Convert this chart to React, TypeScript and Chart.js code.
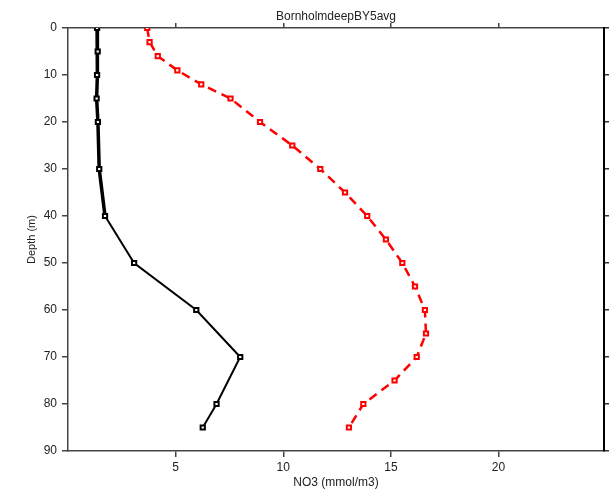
import React, { useEffect, useRef } from "react";
import { Chart, registerables } from "chart.js";

Chart.register(...registerables);

const chartTitle = "BornholmdeepBY5avg";
const xTitle = "NO3 (mmol/m3)";
const yTitle = "Depth (m)";

const blackDepth = [0, 5, 10, 15, 20, 30, 40, 50, 60, 70, 80, 85];
const blackNO3 = [1.35, 1.38, 1.35, 1.33, 1.39, 1.45, 1.72, 3.07, 5.96, 8.0, 6.9, 6.26];

const redDepth = [0, 3, 6, 9, 12, 15, 20, 25, 30, 35, 40, 45, 50, 55, 60, 65, 70, 75, 80, 85];
const redNO3 = [3.68, 3.79, 4.17, 5.08, 6.19, 7.55, 8.92, 10.42, 11.72, 12.87, 13.9, 14.77, 15.53, 16.12, 16.58, 16.63, 16.2, 15.17, 13.72, 13.05];

const xTicks = [5, 10, 15, 20];
const xMin = 0;
const xMax = 24.9;
const yMin = 0;
const yMax = 90;

const FONT = { family: "'Liberation Sans', Arial, sans-serif", size: 12 };
const AXIS = "#444";

export default function App() {
  const ref = useRef<HTMLCanvasElement>(null);

  useEffect(() => {
    if (!ref.current) return;
    const keepX = (s: any) => {
      s.ticks = xTicks.map((v) => ({ value: v }));
    };
    const chart = new Chart(ref.current, {
      type: "scatter",
      data: {
        datasets: [
          {
            label: "black",
            data: blackNO3.map((v, i) => ({ x: v, y: blackDepth[i] })),
            showLine: true,
            borderColor: "#000",
            backgroundColor: "#fff",
            borderWidth: 2,
            segment: {
              borderWidth: (ctx: any) => (ctx.p1.parsed.y <= 40 ? 3.5 : 2),
            },
            pointStyle: "rect",
            pointRadius: 3,
            pointBorderWidth: 2,
            pointBorderColor: "#000",
            pointBackgroundColor: "#fff",
            xAxisID: "x",
            yAxisID: "y",
          },
          {
            label: "red",
            data: redNO3.map((v, i) => ({ x: v, y: redDepth[i] })),
            showLine: true,
            borderColor: "#ff0000",
            backgroundColor: "#fff",
            borderWidth: 2.5,
            borderDash: [9, 6],
            pointStyle: "rect",
            pointRadius: 3,
            pointBorderWidth: 2,
            pointBorderColor: "#ff0000",
            pointBackgroundColor: "#fff",
            xAxisID: "x",
            yAxisID: "y",
          },
        ],
      },
      options: {
        animation: false,
        responsive: false,
        layout: { padding: 0 },
        plugins: {
          legend: { display: false },
          tooltip: { enabled: false },
          title: { display: false },
        },
        scales: {
          x: {
            type: "linear",
            position: "bottom",
            min: xMin,
            max: xMax,
            afterBuildTicks: keepX,
            afterFit: (s: any) => {
              s.height = 42;
            },
            border: { display: true, color: AXIS, width: 1.5 },
            grid: { drawOnChartArea: false, drawTicks: true, tickLength: 6, color: AXIS, lineWidth: 1.5 },
            ticks: { color: "#222", font: FONT, padding: 3, maxRotation: 0 },
            title: { display: true, text: xTitle, color: "#222", font: FONT, padding: { top: 0, bottom: 3 } },
          },
          x2: {
            type: "linear",
            position: "top",
            min: xMin,
            max: xMax,
            afterBuildTicks: keepX,
            afterFit: (s: any) => {
              s.height = 28;
            },
            border: { display: true, color: AXIS, width: 1.5 },
            grid: { drawOnChartArea: false, drawTicks: true, tickLength: 5, color: AXIS, lineWidth: 1.5 },
            ticks: { display: false },
            title: { display: true, text: chartTitle, color: "#222", font: FONT, padding: { top: 9, bottom: 0 } },
          },
          y: {
            type: "linear",
            position: "left",
            reverse: true,
            min: yMin,
            max: yMax,
            afterFit: (s: any) => {
              s.width = 68;
            },
            border: { display: true, color: AXIS, width: 1.5 },
            grid: { drawOnChartArea: false, drawTicks: true, tickLength: 6, color: AXIS, lineWidth: 1.5 },
            ticks: { stepSize: 10, color: "#222", font: FONT, padding: 5 },
            title: { display: true, text: yTitle, color: "#222", font: { ...FONT, size: 11 }, padding: { top: 25, bottom: 0 } },
          },
          y2: {
            type: "linear",
            position: "right",
            reverse: true,
            min: yMin,
            max: yMax,
            afterFit: (s: any) => {
              s.width = 6;
            },
            border: { display: true, color: "#000", width: 2 },
            grid: { drawOnChartArea: false, drawTicks: true, tickLength: 5, color: "#333", lineWidth: 1.5 },
            ticks: { display: false, stepSize: 10 },
          },
        },
      } as any,
    });
    return () => chart.destroy();
  }, []);

  return (
    <div style={{ position: "absolute", left: 0, top: 0, width: 610, height: 493, background: "#fff" }}>
      <canvas ref={ref} width={610} height={493} style={{ display: "block" }} />
    </div>
  );
}
